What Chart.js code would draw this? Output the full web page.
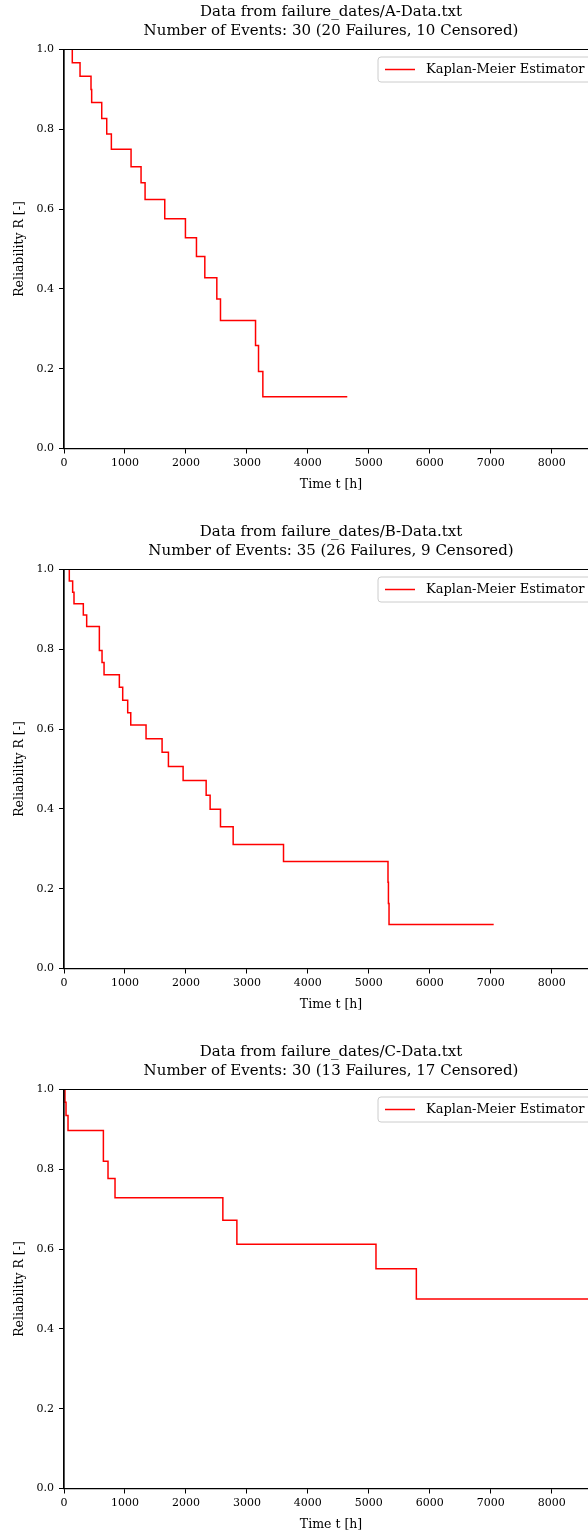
<!DOCTYPE html>
<html><head><meta charset="utf-8">
<script src="https://cdn.jsdelivr.net/npm/chart.js@4.4.0/dist/chart.umd.min.js"></script>
<style>
html,body{margin:0;padding:0;background:#fff;overflow:hidden;width:588px;height:1532px}
.panel{position:relative;width:588px;height:520px;overflow:hidden}
canvas{display:block}
</style></head><body>
<div class="panel"><canvas id="c1" width="620" height="520"></canvas></div>
<div class="panel"><canvas id="c2" width="620" height="520"></canvas></div>
<div class="panel" style="height:492px"><canvas id="c3" width="620" height="520"></canvas></div>
<script>
// ---- data ----
const xTickValues = [0, 1000, 2000, 3000, 4000, 5000, 6000, 7000, 8000];
const yTickValues = [0.0, 0.2, 0.4, 0.6, 0.8, 1.0];
const seriesLabel = 'Kaplan-Meier Estimator';
const xAxisLabel = 'Time t [h]';
const yAxisLabel = 'Reliability R [-]';

const titleA = ['Data from failure_dates/A-Data.txt', 'Number of Events: 30 (20 Failures, 10 Censored)'];
const timesA = [136, 136, 263, 443, 454, 619, 701, 777, 1100, 1264, 1330, 1653, 1992, 2173, 2310, 2507, 2567, 3142, 3191, 3262, 4647];
const relA   = [1.0, 0.967, 0.933, 0.900, 0.867, 0.827, 0.788, 0.750, 0.706, 0.666, 0.624, 0.576, 0.528, 0.481, 0.428, 0.375, 0.321, 0.258, 0.193, 0.130, 0.130];

const titleB = ['Data from failure_dates/B-Data.txt', 'Number of Events: 35 (26 Failures, 9 Censored)'];
const timesB = [87, 87, 142, 164, 317, 372, 580, 624, 657, 908, 963, 1045, 1095, 1346, 1609, 1713, 1954, 2332, 2397, 2567, 2775, 3601, 5315, 5322, 5332, 7049];
const relB   = [1.0, 0.971, 0.943, 0.914, 0.886, 0.857, 0.797, 0.767, 0.736, 0.705, 0.672, 0.641, 0.610, 0.576, 0.542, 0.506, 0.471, 0.434, 0.399, 0.355, 0.311, 0.268, 0.216, 0.163, 0.110, 0.110];

const titleC = ['Data from failure_dates/C-Data.txt', 'Number of Events: 30 (13 Failures, 17 Censored)'];
const timesC = [16, 16, 33, 66, 646, 722, 837, 2606, 2836, 5118, 5780, 8760];
const relC   = [1.0, 0.968, 0.935, 0.897, 0.820, 0.777, 0.729, 0.672, 0.612, 0.551, 0.475, 0.475];

const xMin = 0, xMax = 8760, yMin = 0, yMax = 1;

// ---- styling ----
const FONT = "'DejaVu Serif', 'Liberation Serif', serif";
Chart.defaults.font.family = FONT;
Chart.defaults.color = '#000';

const framePlugin = {
  id: 'frame',
  afterDatasetsDraw(chart) {
    const {ctx, chartArea: a} = chart;
    ctx.save();
    ctx.strokeStyle = '#000';
    ctx.lineWidth = 1.2;
    ctx.beginPath();
    ctx.rect(a.left, a.top, a.right - a.left, a.bottom - a.top);
    ctx.stroke();
    ctx.restore();
  }
};

const legendPlugin = {
  id: 'mplLegend',
  afterDraw(chart) {
    const {ctx, chartArea: a} = chart;
    const ds = chart.data.datasets[0];
    const left = a.right - 220, top = a.top + 7.5, w = 213, h = 25, r = 3;
    ctx.save();
    ctx.fillStyle = 'rgba(255,255,255,0.8)';
    ctx.strokeStyle = '#cccccc';
    ctx.lineWidth = 1;
    ctx.beginPath();
    ctx.roundRect(left, top, w, h, r);
    ctx.fill();
    ctx.stroke();
    const cy = top + h / 2;
    ctx.strokeStyle = ds.borderColor;
    ctx.lineWidth = 1.5;
    ctx.beginPath();
    ctx.moveTo(left + 7, cy);
    ctx.lineTo(left + 37, cy);
    ctx.stroke();
    ctx.fillStyle = '#000';
    ctx.font = '13px ' + FONT;
    ctx.textBaseline = 'middle';
    ctx.textAlign = 'left';
    ctx.fillText(ds.label, left + 48, cy + 0.5);
    ctx.restore();
  }
};

function makeChart(id, title, times, rel) {
  const pts = times.map((t, i) => ({x: t, y: rel[i]}));
  return new Chart(document.getElementById(id), {
    type: 'line',
    data: {
      datasets: [{
        label: seriesLabel,
        data: pts,
        borderColor: '#ff0000',
        borderWidth: 1.5,
        pointRadius: 0,
        pointHoverRadius: 0,
        stepped: 'before',
        fill: false,
        tension: 0
      }]
    },
    options: {
      responsive: false,
      animation: false,
      devicePixelRatio: 1,
      events: [],
      layout: {padding: {left: 0, right: 22, top: 0, bottom: 0}},
      plugins: {
        legend: {display: false},
        tooltip: {enabled: false},
        title: {
          display: true,
          text: title,
          fullSize: false,
          color: '#000',
          font: {size: 15, weight: 'normal', lineHeight: 1.27},
          padding: {top: 3, bottom: 8.4}
        }
      },
      scales: {
        x: {
          type: 'linear',
          min: xMin, max: xMax,
          afterFit: s => { s.height = 71.5; },
          afterBuildTicks: s => { s.ticks = xTickValues.map(v => ({value: v})); },
          grid: {display: true, drawOnChartArea: false, drawTicks: true, tickLength: 5, color: '#000', lineWidth: 1},
          border: {display: true, color: '#000', width: 1.2},
          ticks: {padding: 3, font: {size: 11}, color: '#000', maxRotation: 0, autoSkip: false, includeBounds: false,
                  callback: v => String(v)},
          title: {display: true, text: xAxisLabel, color: '#000', font: {size: 12.5, lineHeight: 1.2}, padding: {top: 0, bottom: 27.5}}
        },
        y: {
          type: 'linear',
          min: yMin, max: yMax,
          afterFit: s => { s.width = 64; },
          afterBuildTicks: s => { s.ticks = yTickValues.map(v => ({value: v})); },
          grid: {display: true, drawOnChartArea: false, drawTicks: true, tickLength: 5, color: '#000', lineWidth: 1},
          border: {display: true, color: '#000', width: 1.2},
          ticks: {padding: 5, font: {size: 11}, color: '#000', autoSkip: false,
                  callback: v => Number(v).toFixed(1)},
          title: {display: true, text: yAxisLabel, color: '#000', font: {size: 12.5, lineHeight: 1.2}, padding: {top: 12.5, bottom: 0}}
        }
      }
    },
    plugins: [framePlugin, legendPlugin]
  });
}

makeChart('c1', titleA, timesA, relA);
makeChart('c2', titleB, timesB, relB);
makeChart('c3', titleC, timesC, relC);
</script>
</body></html>
